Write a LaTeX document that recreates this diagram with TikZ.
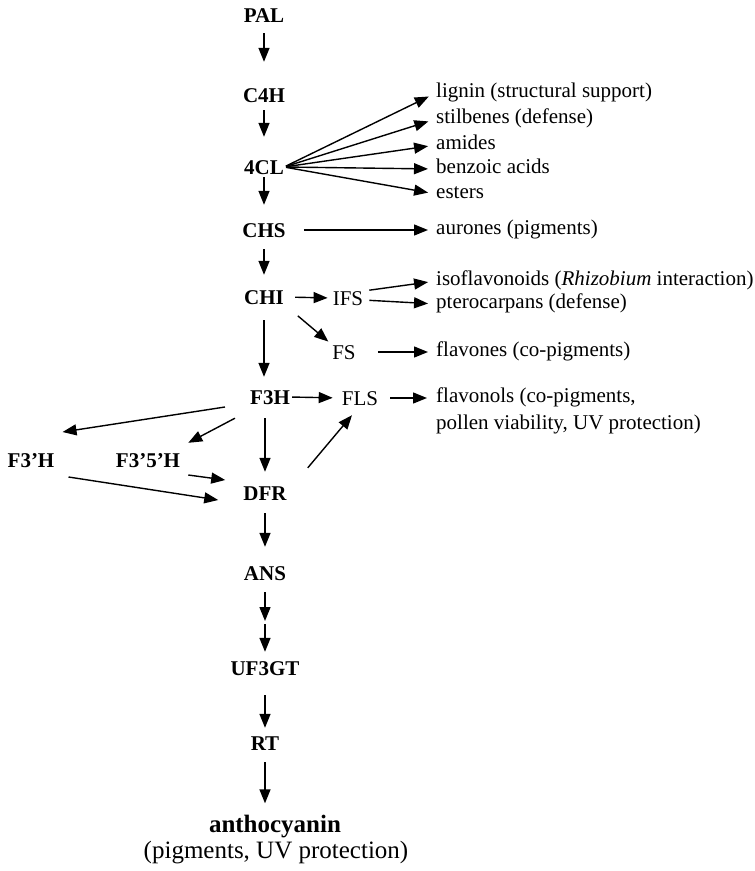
\documentclass[tikz,border=0pt]{standalone}
\usepackage{fontspec}
\setmainfont{Liberation Serif}
\usetikzlibrary{arrows.meta,positioning}

\tikzset{
  enzyme/.style={font=\fontsize{21}{25}\selectfont\bfseries, inner sep=0pt, text height=14pt, text depth=0pt},
  synth/.style={font=\fontsize{21}{25}\selectfont, inner sep=0pt, text height=14pt, text depth=0pt},
  product/.style={font=\fontsize{21}{25}\selectfont, inner sep=0pt, anchor=west, text height=9pt, text depth=0pt},
  flow/.style={-{Triangle[length=14pt,width=11pt]}, line width=1.4pt}
}

\begin{document}
\begin{tikzpicture}[x=1pt, y=-1pt]
    \useasboundingbox (0,0) rectangle (755,871);

    % Main pathway
    \node[enzyme] (pal) at (264,15) {PAL};
    \node[enzyme] (c4h) at (264,95) {C4H};
    \node[enzyme] (cl4) at (264,167) {4CL};
    \node[enzyme] (chs) at (264,230) {CHS};
    \node[enzyme] (chi) at (264,297) {CHI};
    \node[enzyme] (f3h) at (270,397) {F3H};
    \node[enzyme] (dfr) at (265,493) {DFR};
    \node[enzyme] (ans) at (265,573) {ANS};
    \coordinate (ansnext) at (265,622);
    \node[enzyme] (uf3gt) at (265,668) {UF3GT};
    \node[enzyme] (rt) at (265,743) {RT};
    \node[font=\fontsize{25}{30}\selectfont\bfseries, inner sep=0pt, text height=17pt, text depth=0pt] (anth) at (275,824) {anthocyanin};
    \node[font=\fontsize{25}{30}\selectfont, inner sep=0pt, text height=17pt, text depth=0pt] (anthuse) at (276,850) {(pigments, UV protection)};

    % Side branches
    \node[synth] (ifs) at (348,298) {IFS};
    \node[synth] (fs) at (344,352) {FS};
    \node[synth] (fls) at (360,398) {FLS};
    \node[enzyme] (f3ph) at (31,460) {F3'H};
    \node[enzyme] (f35h) at (148,460) {F3'5'H};

    % End products
    \node[product] (lignin) at (436,93) {lignin (structural support)};
    \node[product] (stilbenes) at (436,119) {stilbenes (defense)};
    \node[product] (amides) at (436,145) {amides};
    \node[product] (benzoic) at (436,169) {benzoic acids};
    \node[product] (esters) at (436,194) {esters};
    \node[product] (aurones) at (436,230) {aurones (pigments)};
    \node[product] (isoflav) at (436,281) {isoflavonoids (\textit{Rhizobium} interaction)};
    \node[product] (ptero) at (436,304) {pterocarpans (defense)};
    \node[product] (flavones) at (436,352) {flavones (co-pigments)};
    \node[font=\fontsize{21}{27}\selectfont, inner sep=0pt, anchor=north west, align=left] (flavonols) at (436,388) {flavonols (co-pigments,\\pollen viability, UV protection)};

    % Connectors down the main pathway
    \draw[flow, shorten <=11pt, shorten >=26pt] (pal) -- (c4h);
    \draw[flow, shorten <=8pt, shorten >=23pt] (c4h) -- (cl4);
    \draw[flow, shorten <=3pt, shorten >=18pt] (cl4) -- (chs);
    \draw[flow, shorten <=12pt, shorten >=15pt] (chs) -- (chi);
    \draw[flow, shorten <=16pt, shorten >=13pt] (chi) -- (chi |- f3h.north);
    \draw[flow, shorten <=14pt, shorten >=14pt] (f3h.south -| dfr) -- (dfr);
    \draw[flow, shorten <=13pt, shorten >=19pt] (dfr) -- (ans);
    \draw[flow, shorten <=12pt, shorten >=1pt] (ans) -- (ansnext);
    \draw[flow, shorten <=2pt, shorten >=9pt] (ansnext) -- (uf3gt.north);
    \draw[flow, shorten <=20pt, shorten >=8pt] (uf3gt) -- (rt);
    \draw[flow, shorten <=12pt, shorten >=12pt] (rt) -- (rt |- anth.north);

    % Branches off 4CL
    \foreach \prod in {lignin, stilbenes, amides, benzoic, esters}
        \draw[flow, shorten <=2pt, shorten >=8pt] (cl4.east) -- (\prod.west);

    \draw[flow, shorten <=18pt, shorten >=8pt] (chs.east) -- (aurones.west);
    \draw[flow, shorten <=11pt, shorten >=5pt] (chi.east) -- (ifs.west);
    \draw[flow, shorten <=6pt, shorten >=8pt] ([yshift=7pt]ifs.east) -- (isoflav.west);
    \draw[flow, shorten <=6pt, shorten >=8pt] ([yshift=-2pt]ifs.east) -- (ptero.west);
    \draw[flow, shorten <=18pt, shorten >=5pt] (chi.south east) -- (fs.north west);
    \draw[flow, shorten <=22pt, shorten >=8pt] (fs.east) -- (flavones.west);
    \draw[flow, shorten <=2pt, shorten >=9pt] (f3h.east) -- (fls.west);
    \draw[flow, shorten <=12pt, shorten >=9pt] (fls.east) -- (fls -| flavonols.west);

    % Hydroxylation side steps around DFR
    \draw[flow] ([shift={(-25pt,-10pt)}]f3h.west) -- ([shift={(8pt,28pt)}]f3ph.east);
    \draw[flow] ([shift={(-15pt,-14pt)}]f3h.south west) -- ([shift={(8pt,10pt)}]f35h.north east);
    \draw[flow] ([shift={(8pt,-15pt)}]f35h.east) -- ([shift={(-18pt,13pt)}]dfr.west);
    \draw[flow] ([shift={(14pt,-17pt)}]f3ph.east) -- ([shift={(-25pt,-7pt)}]dfr.west);
    \draw[flow] ([shift={(21pt,18pt)}]dfr.north east) -- ([shift={(-8pt,-10pt)}]fls.south);
\end{tikzpicture}
\end{document}
